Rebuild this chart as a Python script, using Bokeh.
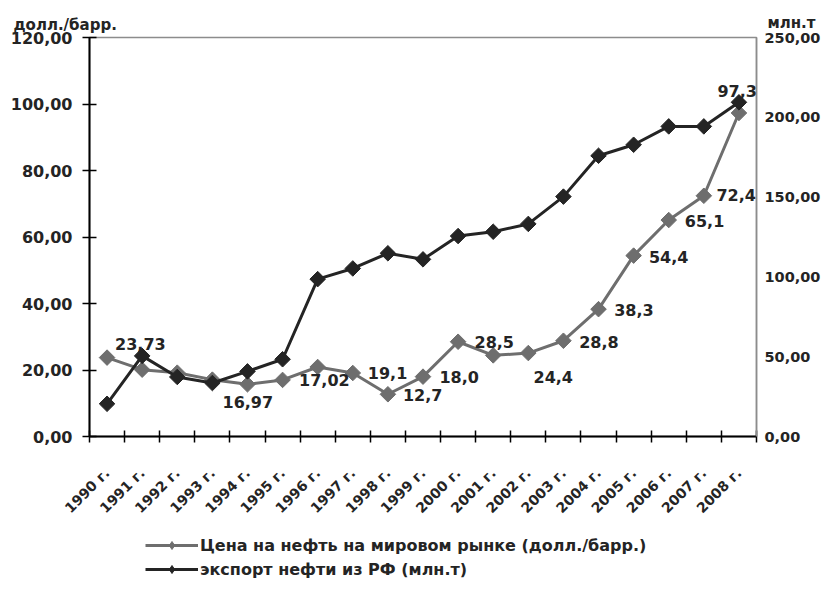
import math
from bokeh.plotting import figure
from bokeh.layouts import column
from bokeh.models import (Range1d, LinearAxis, FixedTicker, Legend, LegendItem,
                          Label, LabelSet, ColumnDataSource)
from bokeh.core.properties import value
from bokeh.embed import file_html
from bokeh.resources import INLINE

years = ["1990 г.", "1991 г.", "1992 г.", "1993 г.", "1994 г.", "1995 г.", "1996 г.",
         "1997 г.", "1998 г.", "1999 г.", "2000 г.", "2001 г.", "2002 г.", "2003 г.",
         "2004 г.", "2005 г.", "2006 г.", "2007 г.", "2008 г."]
price = [23.73, 20.1, 19.2, 17.1, 15.7, 17.02, 20.9, 19.1, 12.7, 18.0, 28.5, 24.4,
         25.1, 28.8, 38.3, 54.4, 65.1, 72.4, 97.3]
export = [20.5, 50.5, 37.3, 33.5, 40.8, 48.4, 98.6, 105.3, 114.8, 111.0, 125.6, 128.3,
          133.2, 150.3, 175.9, 182.8, 194.3, 194.3, 209.4]

left_ticks = [0, 20, 40, 60, 80, 100, 120]
left_tick_labels = ["0,00", "20,00", "40,00", "60,00", "80,00", "100,00", "120,00"]
right_ticks = [0, 50, 100, 150, 200, 250]
right_tick_labels = ["0,00", "50,00", "100,00", "150,00", "200,00", "250,00"]

series_names = ["Цена на нефть на мировом рынке (долл./барр.)",
                "экспорт нефти из РФ (млн.т)"]

# data labels as they appear on the chart (text, category position, left-axis value)
lab_text = ["23,73", "16,97", "17,02", "19,1", "12,7", "18,0", "28,5", "24,4",
            "28,8", "38,3", "54,4", "65,1", "72,4", "97,3"]
lab_x = [1.95, 5.01, 7.19, 8.99, 9.99, 11.03, 12.03, 13.71, 15.01, 16.01, 17.0,
         18.02, 18.92, 18.95]
lab_y = [27.8, 10.3, 16.9, 19.2, 12.4, 17.9, 28.4, 17.9, 28.4, 38.0, 54.1, 64.9,
         72.7, 103.8]

GRAY = "#6e6e6e"
DARK = "#242424"
AXGRAY = "#8c8c8c"
FONT = "DejaVu Sans"

n = len(years)
xs = list(range(1, n + 1))

p = figure(frame_width=667, frame_height=399, output_backend="svg", toolbar_location=None,
           x_range=Range1d(0.5, n + 0.5), y_range=Range1d(0, 120),
           min_border_left=89, min_border_right=64, min_border_top=37,
           min_border_bottom=99, x_axis_location=None, y_axis_location=None)
p.extra_y_ranges = {"right": Range1d(0, 250)}
p.grid.visible = False
p.outline_line_color = AXGRAY
p.outline_line_width = 1.5
p.background_fill_color = "white"
p.border_fill_color = "white"

# x axis
xax = LinearAxis(ticker=FixedTicker(ticks=xs, minor_ticks=[i + 0.5 for i in range(n + 1)]))
xax.major_label_overrides = {i: years[i - 1] for i in xs}
xax.major_label_orientation = math.pi / 4
xax.major_tick_in = 0
xax.major_tick_out = 0
xax.minor_tick_in = 6
xax.minor_tick_out = 6
xax.minor_tick_line_color = "black"
xax.minor_tick_line_width = 1.5
xax.axis_line_color = "black"
xax.axis_line_width = 2
xax.major_label_standoff = 28
xax.major_label_text_font = FONT
xax.major_label_text_font_style = "bold"
xax.major_label_text_font_size = "14px"
xax.major_label_text_color = DARK
p.add_layout(xax, "below")

# left axis
yax = LinearAxis(ticker=FixedTicker(ticks=left_ticks, minor_ticks=[]))
yax.major_label_overrides = dict(zip(left_ticks, left_tick_labels))
yax.major_tick_in = 7
yax.major_tick_out = 7
yax.major_tick_line_width = 1.5
yax.major_tick_line_color = "black"
yax.axis_line_color = "black"
yax.axis_line_width = 2
yax.major_label_standoff = 10
yax.major_label_text_font = FONT
yax.major_label_text_font_style = "bold"
yax.major_label_text_font_size = "16px"
yax.major_label_text_color = DARK
p.add_layout(yax, "left")

# right axis
rax = LinearAxis(y_range_name="right", ticker=FixedTicker(ticks=right_ticks, minor_ticks=[]))
rax.major_label_overrides = dict(zip(right_ticks, right_tick_labels))
rax.major_tick_in = 0
rax.major_tick_out = 0
rax.axis_line_color = AXGRAY
rax.axis_line_width = 1.5
rax.major_label_standoff = 8
rax.major_label_text_font = FONT
rax.major_label_text_font_style = "bold"
rax.major_label_text_font_size = "14.5px"
rax.major_label_text_color = DARK
p.add_layout(rax, "right")

# series
p.line(xs, price, line_color=GRAY, line_width=3)
p.scatter(xs, price, marker="square", angle=math.pi / 4, size=11,
          fill_color=GRAY, line_color=GRAY)
p.line(xs, export, line_color=DARK, line_width=3, y_range_name="right")
p.scatter(xs, export, marker="square", angle=math.pi / 4, size=11,
          fill_color=DARK, line_color=DARK, y_range_name="right")

# data labels
src = ColumnDataSource(dict(x=lab_x, y=lab_y, t=lab_text))
ls = LabelSet(x="x", y="y", text="t", source=src, text_align="center",
              text_baseline="middle", text_font=value(FONT), text_font_style="bold",
              text_font_size="16px", text_color=DARK)
p.add_layout(ls)

# axis titles
p.add_layout(Label(x=13, y=24, x_units="canvas", y_units="canvas", text="долл./барр.",
                   text_align="left", text_baseline="alphabetic", text_font=FONT,
                   text_font_style="bold", text_font_size="15px", text_color=DARK), "above")
p.add_layout(Label(x=791, y=22, x_units="canvas", y_units="canvas", text="млн.т",
                   text_align="center", text_baseline="alphabetic", text_font=FONT,
                   text_font_style="bold", text_font_size="15px", text_color=DARK), "above")

# legend strip below the chart (same series, outside its visible range: only the legend shows)
q = figure(width=820, height=44, output_backend="svg", toolbar_location=None,
           x_range=Range1d(0.5, n + 0.5), y_range=Range1d(1000, 1001), min_border=0,
           x_axis_location=None, y_axis_location=None)
q.grid.visible = False
q.outline_line_color = None
q.border_fill_color = "white"
ql1 = q.line(xs, price, line_color=GRAY, line_width=3)
qs1 = q.scatter(xs, price, marker="diamond", size=17, fill_color=GRAY, line_color=GRAY)
ql2 = q.line(xs, export, line_color=DARK, line_width=3)
qs2 = q.scatter(xs, export, marker="diamond", size=17, fill_color=DARK, line_color=DARK)
legend = Legend(items=[
    LegendItem(label=series_names[0], renderers=[ql1, qs1]),
    LegendItem(label=series_names[1], renderers=[ql2, qs2]),
], location=(56, 0))
legend.orientation = "vertical"
legend.padding = 0
legend.margin = 0
legend.spacing = 4
legend.glyph_width = 53
legend.glyph_height = 20
legend.label_height = 20
legend.label_standoff = 2
legend.border_line_color = None
legend.background_fill_alpha = 0
legend.label_text_font = FONT
legend.label_text_font_style = "bold"
legend.label_text_font_size = "16px"
legend.label_text_color = DARK
q.add_layout(legend, "center")

open("out.html", "w").write(file_html(column(p, q, spacing=0), INLINE))
